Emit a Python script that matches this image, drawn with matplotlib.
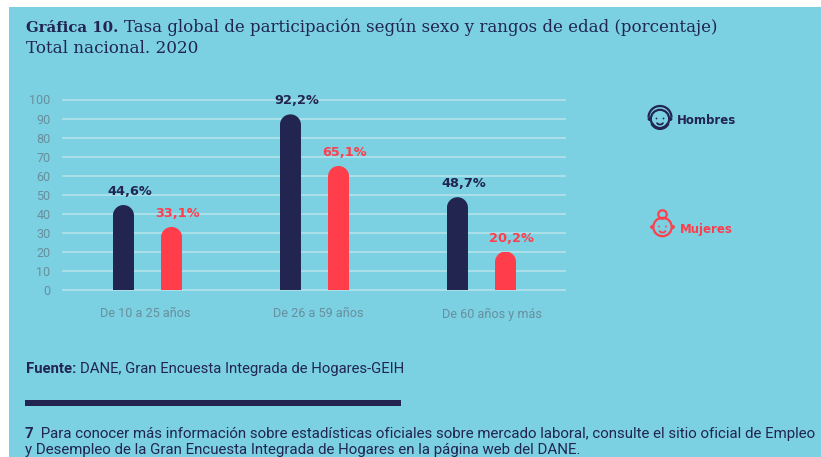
import matplotlib
matplotlib.use("Agg")
import numpy as np
import matplotlib.pyplot as plt
from matplotlib.patches import Arc, Circle, PathPatch, Rectangle
from matplotlib.path import Path
from matplotlib.transforms import IdentityTransform

W, H = 821, 457
BG = "#7BD0E1"
NAVY = "#21254F"
RED = "#FF3D4B"
GRID = "#B4E2EA"
TICK = "#688F9E"

categories = ["De 10 a 25 años", "De 26 a 59 años", "De 60 años y más"]
hombres = [44.6, 92.2, 48.7]
mujeres = [33.1, 65.1, 20.2]
hombres_labels = ["44,6%", "92,2%", "48,7%"]
mujeres_labels = ["33,1%", "65,1%", "20,2%"]
yticks = list(range(0, 101, 10))

# small nudges in points, the labels do not sit exactly on their groups
cat_shift = [-1.5, 3, 7.5]
cat_drop = [17, 17, 17.6]


def run_text(ax, x, y, parts, **kw):
    # write pieces one after the other on the same baseline
    rend = ax.figure.canvas.get_renderer()
    for s, extra in parts:
        t = ax.text(x, y, s, va="baseline", ha="left", **kw, **extra)
        x = x + t.get_window_extent(rend).width
    return x


def rounded_bar(ax, x, v, w, color):
    bar = ax.bar(x, v, w, color=color, zorder=3)[0]
    (x0, y0), (x1, y1) = ax.transData.transform([[x - w / 2, 0], [x + w / 2, v]])
    r = (x1 - x0) / 2
    k = 0.5523 * r
    # clip to a shape with a true half circle on top, in display pixels
    verts = [(x0, y0), (x0, y1 - r), (x0, y1 - r + k), (x0 + r - k, y1), (x0 + r, y1),
             (x0 + r + k, y1), (x1, y1 - r + k), (x1, y1 - r), (x1, y0), (x0, y0)]
    codes = [Path.MOVETO, Path.LINETO, Path.CURVE4, Path.CURVE4, Path.CURVE4,
             Path.CURVE4, Path.CURVE4, Path.CURVE4, Path.LINETO, Path.CLOSEPOLY]
    bar.set_clip_path(PathPatch(Path(verts, codes), transform=IdentityTransform()))


def face(ax, cx, cy, color, woman=False):
    lw = 1.6
    ax.add_patch(Circle((cx, cy), 9.2, fill=False, ec=color, lw=lw))
    ax.add_patch(Circle((cx - 10.5, cy), 1.9, fc=color, ec="none"))
    ax.add_patch(Circle((cx + 10.5, cy), 1.9, fc=color, ec="none"))
    ax.add_patch(Circle((cx - 3.5, cy - 0.5), 0.9, fc=color, ec="none"))
    ax.add_patch(Circle((cx + 3.5, cy - 0.5), 0.9, fc=color, ec="none"))
    ax.add_patch(Arc((cx, cy + 3.5), 6, 4, theta1=0, theta2=180, color=color, lw=1.3))
    if woman:
        ax.add_patch(Circle((cx, cy - 12.5), 4.2, fill=False, ec=color, lw=lw))
    else:
        ax.add_patch(Arc((cx, cy - 1.5), 23, 23, theta1=180, theta2=360, color=color, lw=lw))
        ax.add_patch(Arc((cx, cy + 0.5), 18, 18, theta1=25, theta2=155, color=color, lw=2.2))


fig = plt.figure(figsize=(W / 100, H / 100), dpi=100, facecolor="white")

# page layer in pixel coordinates
page = fig.add_axes([0, 0, 1, 1])
page.set_xlim(0, W)
page.set_ylim(H, 0)
page.axis("off")
page.add_patch(Rectangle((9, 7), W - 9, H - 7, fc=BG, ec="none"))
fig.canvas.draw()

slab = "DejaVu Serif"
run_text(page, 26, 32, [("Gráfica 10. ", {"fontweight": "bold", "fontsize": 10.7}),
                        ("Tasa global de participación según sexo y rangos de edad (porcentaje)",
                         {"fontsize": 12})], family=slab, color=NAVY)
page.text(26, 53, "Total nacional. 2020", family=slab, fontsize=12.1, color=NAVY, va="baseline")

run_text(page, 26, 373, [("Fuente: ", {"fontweight": "bold"}),
                         ("DANE, Gran Encuesta Integrada de Hogares-GEIH", {})],
         family="Roboto", fontsize=10.75, color=NAVY)
page.add_patch(Rectangle((25, 400), 376, 6, fc=NAVY, ec="none"))
run_text(page, 25, 438, [("7 ", {"fontweight": "bold"}),
                         (" Para conocer más información sobre estadísticas oficiales sobre mercado laboral, "
                          "consulte el sitio oficial de Empleo", {})],
         family="Roboto", fontsize=10.8, color=NAVY)
page.text(25, 454, "y Desempleo de la Gran Encuesta Integrada de Hogares en la página web del DANE.",
          family="Roboto", fontsize=10.8, color=NAVY, va="baseline")

# legend
face(page, 660, 119, NAVY)
page.text(677, 124.5, "Hombres", family="DejaVu Sans", fontweight="bold", fontsize=8.5, color=NAVY, va="baseline")
face(page, 662.5, 227, RED, woman=True)
page.text(680, 232.5, "Mujeres", family="DejaVu Sans", fontweight="bold", fontsize=8.5, color=RED, va="baseline")

# chart
ax = fig.add_axes([63 / W, 1 - 290 / H, (565 - 63) / W, (290 - 99.5) / H])
ax.patch.set_alpha(0)
ax.set_xlim(-0.506, 2.5)
ax.set_ylim(0, 100)
for s in ax.spines.values():
    s.set_visible(False)
ax.set_yticks(yticks)
ax.set_yticklabels([str(t) for t in yticks], family="Roboto", fontsize=9, color=TICK)
ax.set_xticks([])
ax.tick_params(axis="y", length=0, pad=9)
ax.grid(axis="y", color=GRID, lw=1.2, zorder=1)
for gl in ax.get_ygridlines():
    gl.set_clip_on(False)
ax.set_axisbelow(True)

off = 0.144
bw = 0.126
fig.canvas.draw()
for i, cat in enumerate(categories):
    rounded_bar(ax, i - off, hombres[i], bw, NAVY)
    rounded_bar(ax, i + off, mujeres[i], bw, RED)
    ax.annotate(hombres_labels[i], (i - off, hombres[i]), xytext=(4.8, 5), textcoords="offset points",
                ha="center", va="bottom", family="DejaVu Sans", fontweight="bold", fontsize=9.3, color=NAVY,
                annotation_clip=False)
    ax.annotate(mujeres_labels[i], (i + off, mujeres[i]), xytext=(4, 5), textcoords="offset points",
                ha="center", va="bottom", family="DejaVu Sans", fontweight="bold", fontsize=9.3, color=RED,
                annotation_clip=False)
    ax.annotate(cat, (i, 0), xytext=(cat_shift[i], -cat_drop[i]), textcoords="offset points",
                ha="center", va="center", family="Roboto", fontsize=9.1, color=TICK,
                annotation_clip=False)

fig.savefig("out.png", dpi=100, facecolor="white")
